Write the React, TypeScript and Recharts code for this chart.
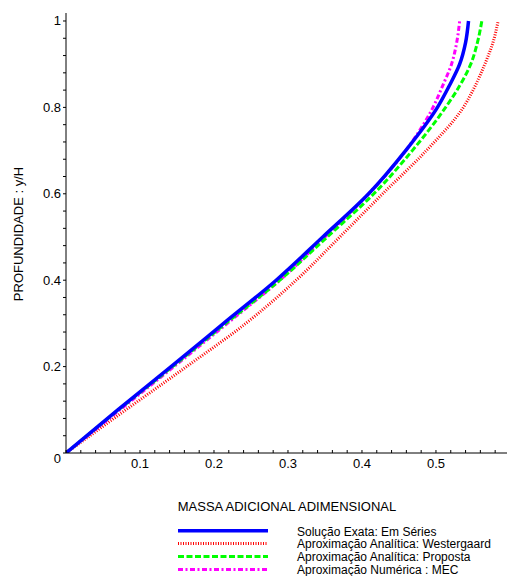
import React from 'react';
import { LineChart, Line, XAxis, YAxis } from 'recharts';

// profundidade relativa y/H (eixo vertical)
const alturas = [0, 0.1, 0.2, 0.3, 0.4, 0.5, 0.6, 0.7, 0.8, 0.85, 0.9, 0.95, 1.0];

// massa adicional adimensional para cada curva
const exata = [0, 0.07, 0.142, 0.213, 0.284, 0.347, 0.409, 0.459, 0.502, 0.518, 0.532, 0.54, 0.544];
const westergaard = [0, 0.081, 0.163, 0.243, 0.311, 0.37, 0.428, 0.487, 0.537, 0.553, 0.566, 0.577, 0.584];
const proposta = [0, 0.071, 0.144, 0.216, 0.289, 0.353, 0.416, 0.468, 0.513, 0.532, 0.547, 0.556, 0.562];
const mec = [0, 0.073, 0.146, 0.218, 0.289, 0.35, 0.409, 0.459, 0.496, 0.509, 0.521, 0.528, 0.532];

const xTicks = [0, 0.02, 0.04, 0.06, 0.08, 0.1, 0.12, 0.14, 0.16, 0.18, 0.2, 0.22, 0.24, 0.26, 0.28, 0.3,
  0.32, 0.34, 0.36, 0.38, 0.4, 0.42, 0.44, 0.46, 0.48, 0.5, 0.52, 0.54, 0.56, 0.58];
const xLabels = [0.1, 0.2, 0.3, 0.4, 0.5];
const yTicks = [0, 0.04, 0.08, 0.12, 0.16, 0.2, 0.24, 0.28, 0.32, 0.36, 0.4, 0.44, 0.48, 0.52, 0.56, 0.6,
  0.64, 0.68, 0.72, 0.76, 0.8, 0.84, 0.88, 0.92, 0.96, 1];
const yLabels = [0, 0.2, 0.4, 0.6, 0.8, 1];

const FONTE = '"Liberation Sans", Arial, sans-serif';

const series = [
  { nome: 'Solução Exata: Em Séries', valores: exata, cor: '#0000ff', largura: 3.5, traco: undefined },
  { nome: 'Aproximação Analítica: Westergaard', valores: westergaard, cor: '#ff0000', largura: 3, traco: '1 1.5' },
  { nome: 'Aproximação Analítica: Proposta', valores: proposta, cor: '#00ff00', largura: 3, traco: '6 2.5' },
  { nome: 'Aproximação Numérica : MEC', valores: mec, cor: '#ff00ff', largura: 3, traco: '5 2.5 2 2.5' },
];

const toPoints = (valores: number[]) => alturas.map((y, i) => ({ x: valores[i], y }));

const XTick = (props: any) => {
  const { x, y, payload } = props;
  const v = payload.value;
  return (
    <g>
      <line x1={x} x2={x} y1={y} y2={y - 3} stroke="#000" />
      {xLabels.includes(v) && (
        <text x={x} y={y + 15} textAnchor="middle" fontSize={13} fontFamily={FONTE} fill="#000">
          {v}
        </text>
      )}
    </g>
  );
};

const YTick = (props: any) => {
  const { x, y, payload } = props;
  const v = payload.value;
  return (
    <g>
      <line x1={x - 3} x2={x} y1={y} y2={y} stroke="#000" />
      {yLabels.includes(v) && (
        <text x={x - 5} y={y + (v === 0 ? 9.5 : 4.5)} textAnchor="end" fontSize={13} fontFamily={FONTE} fill="#000">
          {v}
        </text>
      )}
    </g>
  );
};

// legenda desenhada por cima do gráfico, no rodapé
const Legenda = () => (
  <svg width={508} height={60} style={{ position: 'absolute', left: 0, top: 520 }}>
    {series.map((s, i) => (
      <g key={s.nome}>
        <line x1={178} x2={268} y1={10.7 + 12.9 * i} y2={10.7 + 12.9 * i}
          stroke={s.cor} strokeWidth={s.largura} strokeDasharray={s.traco} />
        <text x={297} y={15.5 + 12.9 * i} fontSize={12} fontFamily={FONTE} fill="#000">{s.nome}</text>
      </g>
    ))}
  </svg>
);

export default function App() {
  return (
    <div style={{ position: 'absolute', left: 0, top: 0, width: 508, height: 576, background: '#fff' }}>
      <LineChart width={508} height={576} margin={{ top: 13, right: 1, left: 0, bottom: 103 }}>
        <XAxis
          dataKey="x"
          type="number"
          domain={[0, 0.596]}
          ticks={xTicks}
          interval={0}
          tick={<XTick />}
          tickSize={0}
          tickMargin={0}
          tickLine={false}
          height={20}
          axisLine={{ stroke: '#000' }}
          allowDataOverflow
          label={{
            content: () => (
              <text x={287} y={511} textAnchor="middle" fontSize={13} fontFamily={FONTE} fill="#000">
                MASSA ADICIONAL ADIMENSIONAL
              </text>
            ),
          }}
        />
        <YAxis
          dataKey="y"
          type="number"
          domain={[0, 1.0185]}
          ticks={yTicks}
          interval={0}
          tick={<YTick />}
          tickSize={0}
          tickMargin={0}
          tickLine={false}
          width={66}
          axisLine={{ stroke: '#000' }}
          allowDataOverflow
          label={{
            content: () => (
              <text x={22.5} y={234} transform="rotate(-90 22.5 234)" textAnchor="middle"
                fontSize={13} fontFamily={FONTE} fill="#000">
                PROFUNDIDADE : y/H
              </text>
            ),
          }}
        />
        {[series[1], series[3], series[2], series[0]].map((s) => (
          <Line
            key={s.nome}
            data={toPoints(s.valores)}
            dataKey="y"
            type="monotoneY"
            stroke={s.cor}
            strokeWidth={s.largura}
            strokeDasharray={s.traco}
            dot={false}
            activeDot={false}
            isAnimationActive={false}
          />
        ))}
      </LineChart>
      <Legenda />
    </div>
  );
}
